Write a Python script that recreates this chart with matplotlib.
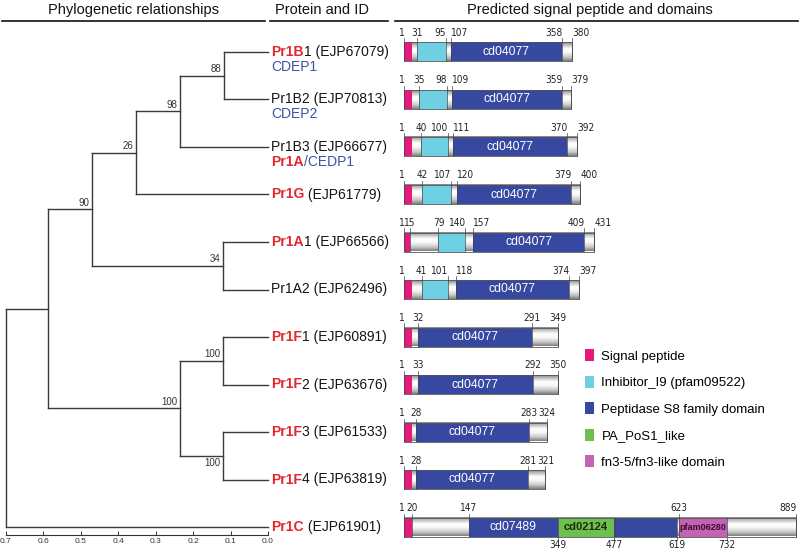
import numpy as np
import matplotlib
matplotlib.use("Agg")
import matplotlib.pyplot as plt
from matplotlib.patches import Rectangle, Patch
from matplotlib.lines import Line2D
from matplotlib import font_manager as fm

# ---------------- data ----------------
# leaves, top to bottom
leaf_red = ["Pr1B", "", "", "Pr1G", "Pr1A", "", "Pr1F", "Pr1F", "Pr1F", "Pr1F", "Pr1C"]
leaf_rest = ["1 (EJP67079)", "Pr1B2 (EJP70813)", "Pr1B3 (EJP66677)", " (EJP61779)",
             "1 (EJP66566)", "Pr1A2 (EJP62496)", "1 (EJP60891)", "2 (EJP63676)",
             "3 (EJP61533)", "4 (EJP63819)", " (EJP61901)"]
alias_red = ["", "", "Pr1A", "", "", "", "", "", "", "", ""]
alias_blue = ["CDEP1", "CDEP2", "/CEDP1", "", "", "", "", "", "", "", ""]

# internal nodes (bottom-up): children are leaf indices or node names
node_names = ["n88", "n98", "n26", "n34", "n90", "nF12", "nF34", "nF", "nX", "root"]
node_child_a = [0, "n88", "n98", 4, "n26", 6, 8, "nF12", "n90", "nX"]
node_child_b = [1, 2, 3, 5, "n34", 7, 9, "nF34", "nF", 10]
node_height = [0.118, 0.235, 0.352, 0.120, 0.469, 0.120, 0.120, 0.235, 0.587, 0.700]
node_support = ["88", "98", "26", "34", "90", "100", "100", "100", "", ""]
support_below = [False, False, False, False, False, False, True, False, False, False]
scale_ticks = [0.7, 0.6, 0.5, 0.4, 0.3, 0.2, 0.1, 0.0]

# domain architecture
prot_len = [380, 379, 392, 400, 431, 397, 349, 350, 324, 321, 889]
signal_end = [20, 20, 20, 20, 15, 20, 20, 20, 20, 20, 20]
inhib_start = [31, 35, 40, 42, 79, 41, None, None, None, None, None]
inhib_end = [95, 98, 100, 107, 140, 101, None, None, None, None, None]
pep_start = [107, 109, 111, 120, 157, 118, 32, 33, 28, 28, 147]
pep_end = [358, 359, 370, 379, 409, 374, 291, 292, 283, 281, 619]
pep_label = ["cd04077"] * 10 + ["cd07489"]
pep_label_end = [None] * 10 + [349]
pa_start = [None] * 10 + [349]
pa_end = [None] * 10 + [477]
pa_label = "cd02124"
fn3_start = [None] * 10 + [623]
fn3_end = [None] * 10 + [732]
fn3_label = "pfam06280"
marks_above = [[1, 31, 95, 107, 358, 380], [1, 35, 98, 109, 359, 379],
               [1, 40, 100, 111, 370, 392], [1, 42, 107, 120, 379, 400],
               [1, 15, 79, 140, 157, 409, 431], [1, 41, 101, 118, 374, 397],
               [1, 32, 291, 349], [1, 33, 292, 350], [1, 28, 283, 324],
               [1, 28, 281, 321], [1, 20, 147, 623, 889]]
marks_below = [[]] * 10 + [[349, 477, 619, 732]]

legend_labels = ["Signal peptide", "Inhibitor_I9 (pfam09522)", "Peptidase S8 family domain",
                 "PA_PoS1_like", "fn3-5/fn3-like domain"]

# ---------------- style ----------------
PINK = "#e8187c"
CYAN = "#6fd0e4"
BLUE = "#3748a0"
GREEN = "#6dc04b"
PURPLE = "#c462b3"
RED_TXT = "#e3262e"
BLUE_TXT = "#3f51a3"
LINE = "#3a3a3a"

plt.rcParams['font.family'] = ['Liberation Sans', 'DejaVu Sans']


def num_fontprops():
    try:
        fm.findfont(fm.FontProperties(family='Liberation Sans Narrow'),
                    fallback_to_default=False)
        return fm.FontProperties(family='Liberation Sans Narrow')
    except Exception:
        pass
    try:
        fp = fm.FontProperties(family='DejaVu Sans', stretch='condensed')
        path = fm.findfont(fp, fallback_to_default=False)
        if 'ondensed' in path:
            return fm.FontProperties(fname=path)
    except Exception:
        pass
    return fm.FontProperties(family='Liberation Sans')


NUM_FP = num_fontprops()

W, H = 800, 549
fig = plt.figure(figsize=(W / 100, H / 100), dpi=100)
ROW0, ROWSTEP = 52.0, 47.5  # layout (px)


def fx(px):
    return px / W


def fy(px):
    return 1 - px / H


YLIM = ((H - ROW0) / ROWSTEP, -ROW0 / ROWSTEP)
PXR = 1 / ROWSTEP  # one pixel in row units

# ---------------- headers ----------------
hdr = dict(ha='center', va='center', fontsize=10.5, color='#111')
fig.text(fx(134), fy(10), "Phylogenetic relationships", **hdr)
fig.text(fx(322), fy(10), "Protein and ID", **hdr)
fig.text(fx(590), fy(10), "Predicted signal peptide and domains", **hdr)
for x0, x1 in [(2, 265), (270, 388), (395, 798)]:
    fig.add_artist(Line2D([fx(x0), fx(x1)], [fy(21), fy(21)], color='#111', lw=1.2))

# ---------------- tree ----------------
ax_t = fig.add_axes([fx(6), 0, 262 / W, 1])
ax_t.set_xlim(0.7, 0.0)
ax_t.set_ylim(*YLIM)
ax_t.axis('off')

ypos = {i: float(i) for i in range(len(leaf_rest))}
hgt = {i: 0.0 for i in range(len(leaf_rest))}
for name, a, b, h in zip(node_names, node_child_a, node_child_b, node_height):
    ypos[name] = (ypos[a] + ypos[b]) / 2
    hgt[name] = h

lk = dict(color=LINE, lw=1.0, clip_on=False, solid_capstyle='projecting')
for name, a, b, h, sup, below in zip(node_names, node_child_a, node_child_b,
                                      node_height, node_support, support_below):
    ax_t.plot([h, h], [ypos[a], ypos[b]], **lk)
    for c in (a, b):
        ax_t.plot([h, hgt[c]], [ypos[c], ypos[c]], **lk)
    if sup:
        ax_t.annotate(sup, (h, ypos[name]), xytext=(-2, -1.5 if below else 1.2),
                      textcoords='offset points', ha='right',
                      va='top' if below else 'bottom', fontsize=7, color='#333')

# leaf labels
tr = ax_t.get_yaxis_transform()
LX = 1 + 3 / 262
FS = 10
for i in range(len(leaf_rest)):
    if leaf_red[i]:
        t1 = ax_t.text(LX, i, leaf_red[i], transform=tr, ha='left', va='center',
                       fontsize=FS, color=RED_TXT, fontweight='bold')
        ax_t.annotate(leaf_rest[i], xy=(1, 0), xycoords=t1, ha='left', va='bottom',
                      fontsize=FS, color='#151515')
    else:
        ax_t.text(LX, i, leaf_rest[i], transform=tr, ha='left', va='center',
                  fontsize=FS, color='#151515')
    y2 = i + 15 * PXR
    if alias_red[i]:
        t3 = ax_t.text(LX, y2, alias_red[i], transform=tr, ha='left', va='center',
                       fontsize=FS, color=RED_TXT, fontweight='bold')
        ax_t.annotate(alias_blue[i], xy=(1, 0), xycoords=t3, ha='left', va='bottom',
                      fontsize=FS, color=BLUE_TXT)
    elif alias_blue[i]:
        ax_t.text(LX, y2, alias_blue[i], transform=tr, ha='left', va='center',
                  fontsize=FS, color=BLUE_TXT)

# scale axis
ax_s = fig.add_axes([fx(6), fy(535), 262 / W, 4 / H])
ax_s.set_xlim(0.7, 0.0)
for s in ['top', 'left', 'right']:
    ax_s.spines[s].set_visible(False)
ax_s.spines['bottom'].set_linewidth(0.8)
ax_s.spines['bottom'].set_color('#333')
ax_s.set_yticks([])
ax_s.set_xticks(scale_ticks)
ax_s.set_xticklabels([f"{v:.1f}" for v in scale_ticks])
ax_s.tick_params(axis='x', direction='in', length=3, width=0.7, pad=2,
                 labelsize=6, colors='#333')
ax_s.patch.set_alpha(0)

# ---------------- domains ----------------
ax_d = fig.add_axes([fx(400), 0, 400 / W, 1])
SCALE = 0.442  # px per residue
XL = (1 - 4 / SCALE, 1 + 396 / SCALE)
BH = 19 * PXR
CLOSE = 25  # residues

prof_pos = [0.0, 0.12, 0.35, 0.55, 0.8, 1.0]
prof_val = [0.52, 0.72, 1.0, 0.97, 0.78, 0.5]
prof = np.interp(np.linspace(0, 1, 40), prof_pos, prof_val)
grad = np.tile(prof[:, None], (1, 2))


def seg(i, s, e, color):
    ax_d.add_patch(Rectangle((s, i - BH / 2), e - s, BH, facecolor=color,
                             edgecolor='none', zorder=3))


for i in range(len(prot_len)):
    L = prot_len[i]
    ax_d.imshow(grad, extent=(1, L, i + BH / 2, i - BH / 2), origin='upper',
                cmap='gray', vmin=0, vmax=1, aspect='auto', interpolation='bilinear',
                zorder=2)
    seg(i, 1, signal_end[i], PINK)
    if inhib_start[i] is not None:
        seg(i, inhib_start[i], inhib_end[i], CYAN)
    seg(i, pep_start[i], pep_end[i], BLUE)
    if pa_start[i] is not None:
        seg(i, pa_start[i], pa_end[i], GREEN)
        ax_d.text((pa_start[i] + pa_end[i]) / 2, i, pa_label, ha='center', va='center',
                  fontsize=8, fontweight='bold', color='#1c2a10', zorder=6)
    if fn3_start[i] is not None:
        seg(i, fn3_start[i], fn3_end[i], PURPLE)
        ax_d.text((fn3_start[i] + fn3_end[i]) / 2, i, fn3_label, ha='center',
                  va='center', fontsize=6.5, fontweight='bold', color='#3a1035', zorder=6)
    le = pep_label_end[i] if pep_label_end[i] is not None else pep_end[i]
    ax_d.text((pep_start[i] + le) / 2, i, pep_label[i], ha='center', va='center',
              fontsize=8.8, color='white', zorder=6)
    ax_d.add_patch(Rectangle((1, i - BH / 2), L - 1, BH, fill=False,
                             edgecolor='#555', lw=0.6, zorder=5))
    # position marks
    for lst, up in ((marks_above[i], True), (marks_below[i], False)):
        for k, p in enumerate(lst):
            if up:
                ax_d.plot([p, p], [i - BH / 2 - 4 * PXR, i + BH / 2], color='#444',
                          lw=0.5, zorder=5)
            else:
                ax_d.plot([p, p], [i - BH / 2, i + BH / 2 + 3 * PXR], color='#444',
                          lw=0.5, zorder=5)
            nxt = lst[k + 1] if k + 1 < len(lst) else None
            prv = lst[k - 1] if k > 0 else None
            ha, dx = 'center', 0.0
            if p == 1 or (nxt is not None and nxt - p < CLOSE):
                ha, dx = 'right', 0.3 / SCALE
            elif prv is not None and prv != 1 and p - prv < CLOSE:
                ha, dx = 'left', 0.3 / SCALE
            if p + 7 / SCALE > XL[1]:
                ha, dx = 'right', 0.0
            yy = i - BH / 2 - 4.5 * PXR if up else i + BH / 2 + 3 * PXR
            ax_d.text(p + dx, yy, str(p), ha=ha, va='bottom' if up else 'top',
                      fontproperties=NUM_FP, fontsize=7.2, color='#222', zorder=6)

ax_d.set_xlim(*XL)
ax_d.set_ylim(*YLIM)
ax_d.axis('off')

handles = [Patch(facecolor=c, edgecolor='none') for c in [PINK, CYAN, BLUE, GREEN, PURPLE]]
ax_d.legend(handles, legend_labels, loc='upper left',
            bbox_to_anchor=(fx(585), fy(349)), bbox_transform=fig.transFigure,
            frameon=False, fontsize=9.5, handlelength=0.7, handleheight=1.05,
            handletextpad=0.55, labelspacing=0.98, borderpad=0, borderaxespad=0)

fig.savefig("out.png", dpi=100)
